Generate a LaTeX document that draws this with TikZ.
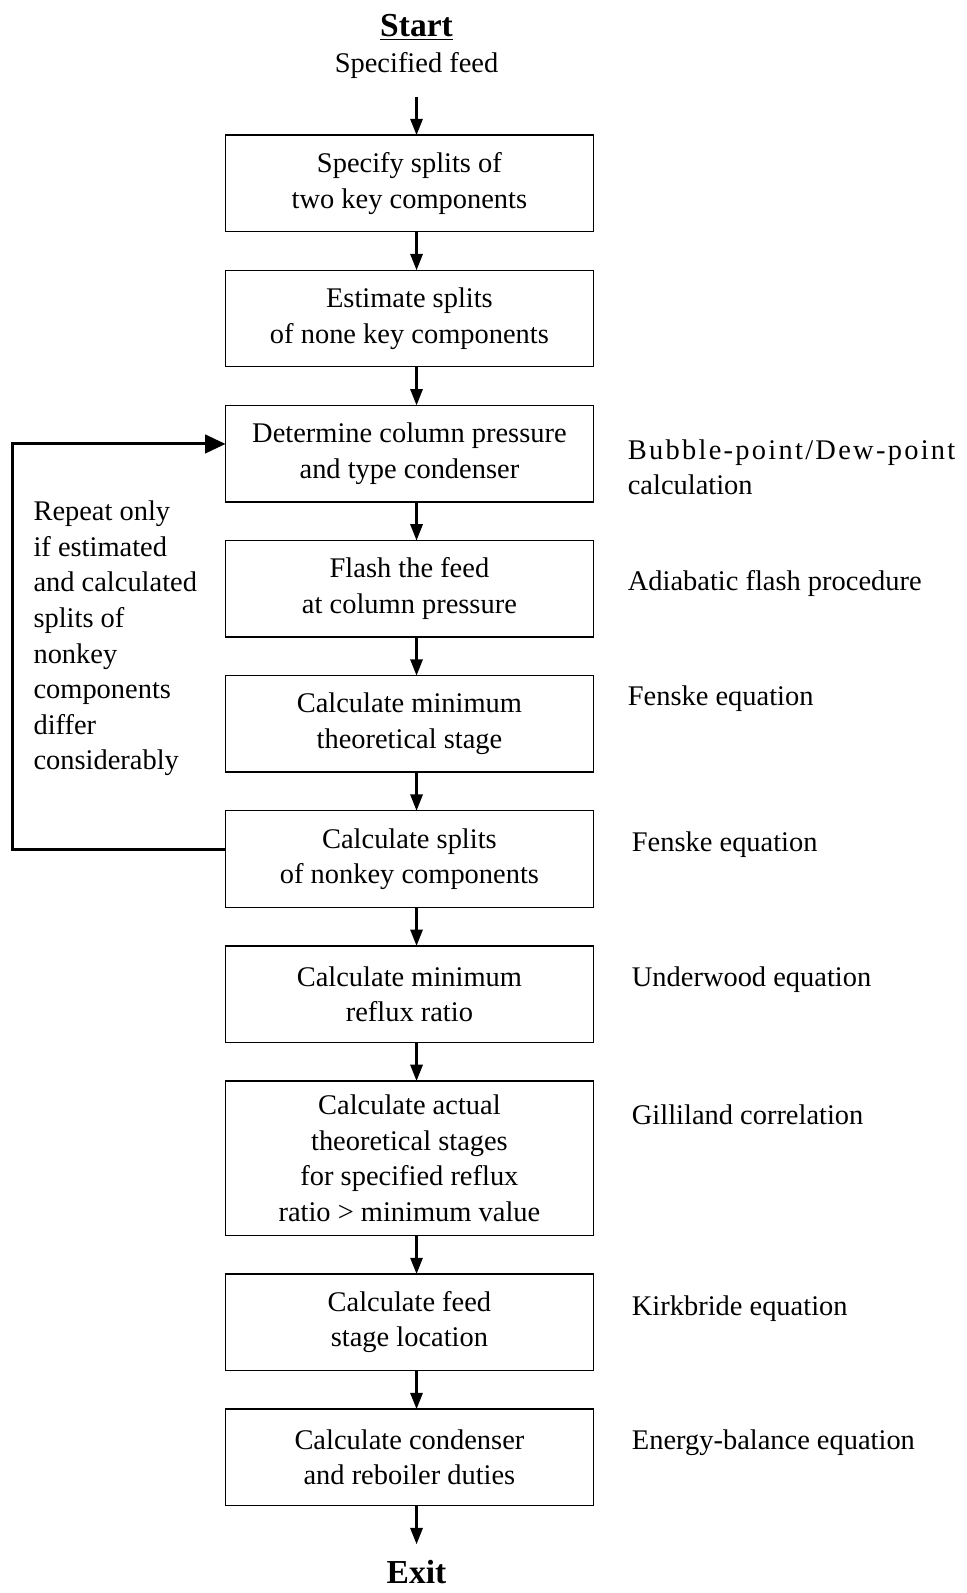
\documentclass[tikz,border=0pt]{standalone}
\usepackage{fontspec}
\setmainfont{Liberation Serif}
\usetikzlibrary{positioning,calc,arrows.meta}

\begin{document}
\begin{tikzpicture}[x=0.5pt,y=-0.5pt,node distance=19pt,outer sep=0pt,inner sep=0pt,font=\fontsize{14}{17.5}\selectfont]
        \tikzset{stepbox/.style={align=center,shape=rectangle,minimum height=47.5pt,minimum width=181pt,draw,line width=0.7pt}}
        \tikzset{tallbox/.style={stepbox,minimum height=76pt}}
        \tikzset{note/.style={align=left,anchor=west}}
        \tikzset{arr/.style={-{Triangle[length=8pt,width=6pt]},line width=1.2pt}}
        \tikzset{looparr/.style={-{Triangle[length=10pt,width=9pt]},line width=1.5pt}}
        \tikzset{title/.style={font=\fontsize{16.5}{20}\selectfont\bfseries}}
        \useasboundingbox (0,0) rectangle (951,1568);

        \node [title] (start) at (410,27) {\underline{Start}};
        \node (feed) at (410,64) {Specified feed};
        \coordinate (in) at (410,95);

        \node [stepbox] (split) at (403,180.5) {Specify splits of\\two key components};
        \node [stepbox,below=of split] (est) {Estimate splits\\of none key components};
        \node [stepbox,below=of est] (press) {Determine column pressure\\and type condenser};
        \node [stepbox,below=of press] (flash) {Flash the feed\\at column pressure};
        \node [stepbox,below=of flash] (nmin) {Calculate minimum\\theoretical stage};
        \node [stepbox,below=of nmin] (nonkey) {Calculate splits\\of nonkey components};
        \node [stepbox,below=of nonkey] (rmin) {Calculate minimum\\reflux ratio};
        \node [tallbox,below=of rmin] (actual) {Calculate actual\\theoretical stages\\for specified reflux\\ratio > minimum value};
        \node [stepbox,below=of actual] (feedst) {Calculate feed\\stage location};
        \node [stepbox,below=of feedst] (duty) {Calculate condenser\\and reboiler duties};

        \coordinate (out) at (410,1520);
        \node [title] (exit) at (410,1547) {Exit};

        % methods on the right
        \node [note] (bubble) at (618,460) {{\addfontfeature{LetterSpace=8}Bubble-point/Dew-point}\\calculation};
        \node [note] (adiab) at (618,574) {Adiabatic flash procedure};
        \node [note] (fenske1) at (618,688) {Fenske equation};
        \node [note] (fenske2) at (622,831) {Fenske equation};
        \node [note] (underwood) at (622,964) {Underwood equation};
        \node [note] (gilliland) at (622,1097) {Gilliland correlation};
        \node [note] (kirkbride) at (622,1288) {Kirkbride equation};
        \node [note] (energy) at (622,1420) {Energy-balance equation};

        % loop text
        \node [note] (repeat) at (33,628.5) {Repeat only\\if estimated\\and calculated\\splits of\\nonkey\\components\\differ\\considerably};

        \draw [arr] (in) -- ([xshift=3.5pt]split.north);
        \draw [arr] ([xshift=3.5pt]split.south) -- ([xshift=3.5pt]est.north);
        \draw [arr] ([xshift=3.5pt]est.south) -- ([xshift=3.5pt]press.north);
        \draw [arr] ([xshift=3.5pt]press.south) -- ([xshift=3.5pt]flash.north);
        \draw [arr] ([xshift=3.5pt]flash.south) -- ([xshift=3.5pt]nmin.north);
        \draw [arr] ([xshift=3.5pt]nmin.south) -- ([xshift=3.5pt]nonkey.north);
        \draw [arr] ([xshift=3.5pt]nonkey.south) -- ([xshift=3.5pt]rmin.north);
        \draw [arr] ([xshift=3.5pt]rmin.south) -- ([xshift=3.5pt]actual.north);
        \draw [arr] ([xshift=3.5pt]actual.south) -- ([xshift=3.5pt]feedst.north);
        \draw [arr] ([xshift=3.5pt]feedst.south) -- ([xshift=3.5pt]duty.north);
        \draw [arr] ([xshift=3.5pt]duty.south) -- (out);
        \draw [looparr] ([yshift=4.75pt]nonkey.west) -- ++(-210,0) |- ([yshift=4.75pt]press.west);

\end{tikzpicture}
\end{document}
